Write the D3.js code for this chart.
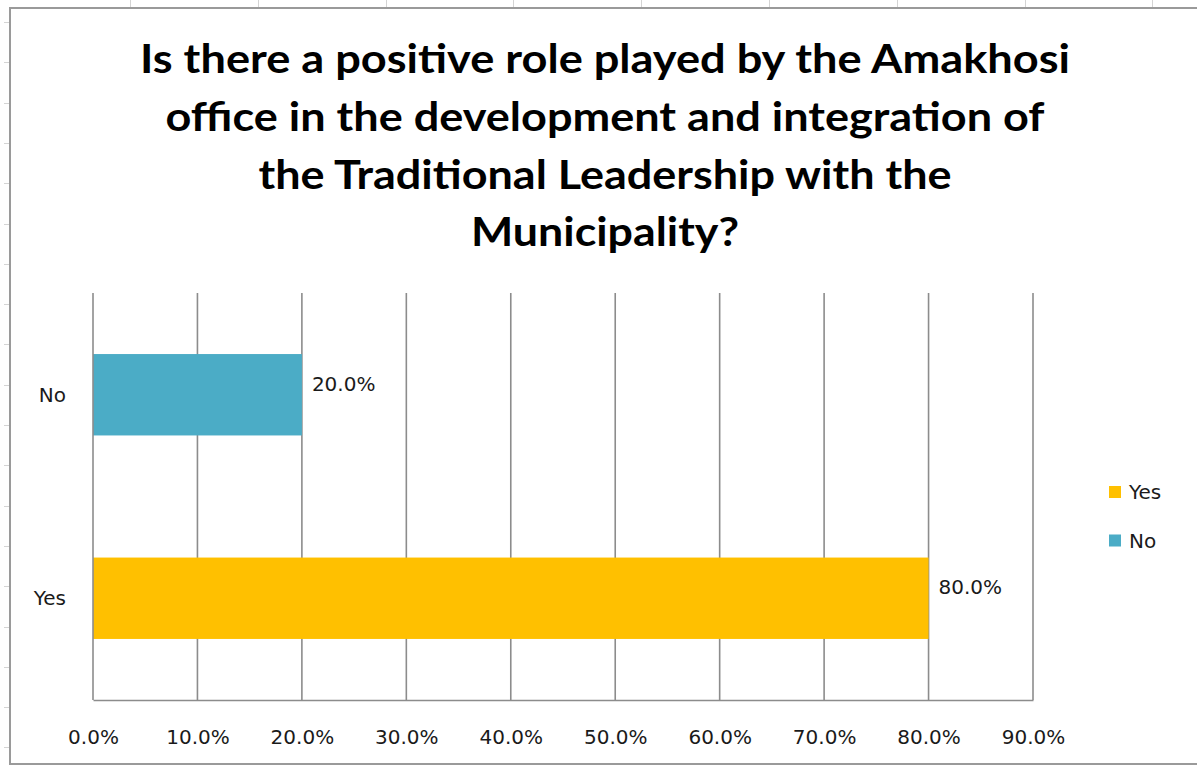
<!DOCTYPE html>
<html>
<head>
<meta charset="utf-8">
<script src="https://cdn.jsdelivr.net/npm/d3@7"></script>
<style>
  html, body { margin: 0; padding: 0; background: #ffffff; }
  svg { display: block; }
</style>
</head>
<body>
<svg id="chart" width="1197" height="765"></svg>
<script>
// Survey answers (share of respondents)
const categories = ["No", "Yes"];
const shares = [0.20, 0.80];
const barColors = ["#4BACC6", "#FFC000"];
const axisTicks = [0, 0.1, 0.2, 0.3, 0.4, 0.5, 0.6, 0.7, 0.8, 0.9];
const legendOrder = ["Yes", "No"];
const titleLines = [
  "Is there a positive role played by the Amakhosi",
  "office in the development and integration of",
  "the Traditional Leadership with the",
  "Municipality?"
];

const W = 1197, H = 765;
const svg = d3.select("#chart");

// worksheet grid peeking out around the chart object
const sheet = svg.append("g").attr("stroke", "#d4d4d4").attr("stroke-width", 1);
d3.range(130, W, 127.8).forEach(cx => {
  sheet.append("line").attr("x1", Math.round(cx) + 0.5).attr("x2", Math.round(cx) + 0.5)
    .attr("y1", 0).attr("y2", 8);
});
d3.range(22, H, 40.3).forEach(ry => {
  sheet.append("line").attr("x1", 4).attr("x2", 9)
    .attr("y1", Math.round(ry) + 0.5).attr("y2", Math.round(ry) + 0.5);
});

// chart object frame
svg.append("rect")
  .attr("x", 10).attr("y", 8).attr("width", W + 10).attr("height", H - 8 - 1)
  .attr("fill", "#ffffff").attr("stroke", "#9a9a9a").attr("stroke-width", 2);

// title
const titleFont = "Lato, 'Open Sans', sans-serif";
const titleWidths = [930, 879, 693, 268];
const titleBaselines = [73, 131, 189, 246];
svg.append("g").selectAll("text").data(titleLines).join("text")
  .attr("x", 605).attr("y", (d, i) => titleBaselines[i])
  .attr("text-anchor", "middle")
  .attr("font-family", titleFont).attr("font-weight", 700).attr("font-size", 40)
  .attr("fill", "#000000")
  .attr("textLength", (d, i) => titleWidths[i])
  .attr("lengthAdjust", "spacingAndGlyphs")
  .text(d => d);

// plot area
const plot = { left: 93, right: 1033, top: 293, bottom: 700 };
const x = d3.scaleLinear().domain([0, 0.9]).range([plot.left, plot.right]);
const y = d3.scaleBand().domain(categories).range([plot.top, plot.bottom]);
const barH = y.bandwidth() * 0.4;
const color = d3.scaleOrdinal().domain(categories).range(barColors);
const labelFont = "'DejaVu Sans', Verdana, sans-serif";
const fmt = d3.format(".1%");

// vertical gridlines
svg.append("g").selectAll("line").data(axisTicks.slice(1)).join("line")
  .attr("x1", d => x(d)).attr("x2", d => x(d))
  .attr("y1", plot.top).attr("y2", plot.bottom)
  .attr("stroke", "#8c8c8c").attr("stroke-width", 1.6);

// bars
const rows = categories.map((c, i) => ({ cat: c, v: shares[i] }));
svg.append("g").selectAll("rect").data(rows).join("rect")
  .attr("x", x(0))
  .attr("y", d => y(d.cat) + (y.bandwidth() - barH) / 2)
  .attr("width", d => x(d.v) - x(0))
  .attr("height", barH)
  .attr("fill", d => color(d.cat));

// axes lines
svg.append("line").attr("x1", plot.left).attr("x2", plot.left)
  .attr("y1", plot.top).attr("y2", plot.bottom)
  .attr("stroke", "#8c8c8c").attr("stroke-width", 1.6);

const xAxis = svg.append("g")
  .attr("transform", `translate(0,${plot.bottom})`)
  .call(d3.axisBottom(x).tickValues(axisTicks).tickFormat(fmt).tickSize(0).tickPadding(30));
xAxis.select(".domain").attr("stroke", "#8c8c8c").attr("stroke-width", 1.6);
xAxis.selectAll("text")
  .attr("font-family", labelFont).attr("font-size", 20).attr("fill", "#1a1a1a")
  .attr("dy", 0).attr("y", 44);

// category labels
svg.append("g").selectAll("text").data(categories).join("text")
  .attr("x", plot.left - 27)
  .attr("y", d => y(d) + y.bandwidth() / 2)
  .attr("dy", "0.36em")
  .attr("text-anchor", "end")
  .attr("font-family", labelFont).attr("font-size", 20).attr("fill", "#1a1a1a")
  .text(d => d);

// value labels
svg.append("g").selectAll("text").data(rows).join("text")
  .attr("x", d => x(d.v) + 10)
  .attr("y", d => y(d.cat) + y.bandwidth() / 2 - 4)
  .attr("font-family", labelFont).attr("font-size", 20).attr("fill", "#1a1a1a")
  .text(d => fmt(d.v));

// legend
const legend = svg.append("g").selectAll("g").data(legendOrder).join("g")
  .attr("transform", (d, i) => `translate(1109,${486 + i * 48.5})`);
legend.append("rect").attr("width", 12).attr("height", 12)
  .attr("fill", d => color(d));
legend.append("text").attr("x", 20).attr("y", 13)
  .attr("font-family", labelFont).attr("font-size", 20).attr("fill", "#1a1a1a")
  .text(d => d);
</script>
</body>
</html>
